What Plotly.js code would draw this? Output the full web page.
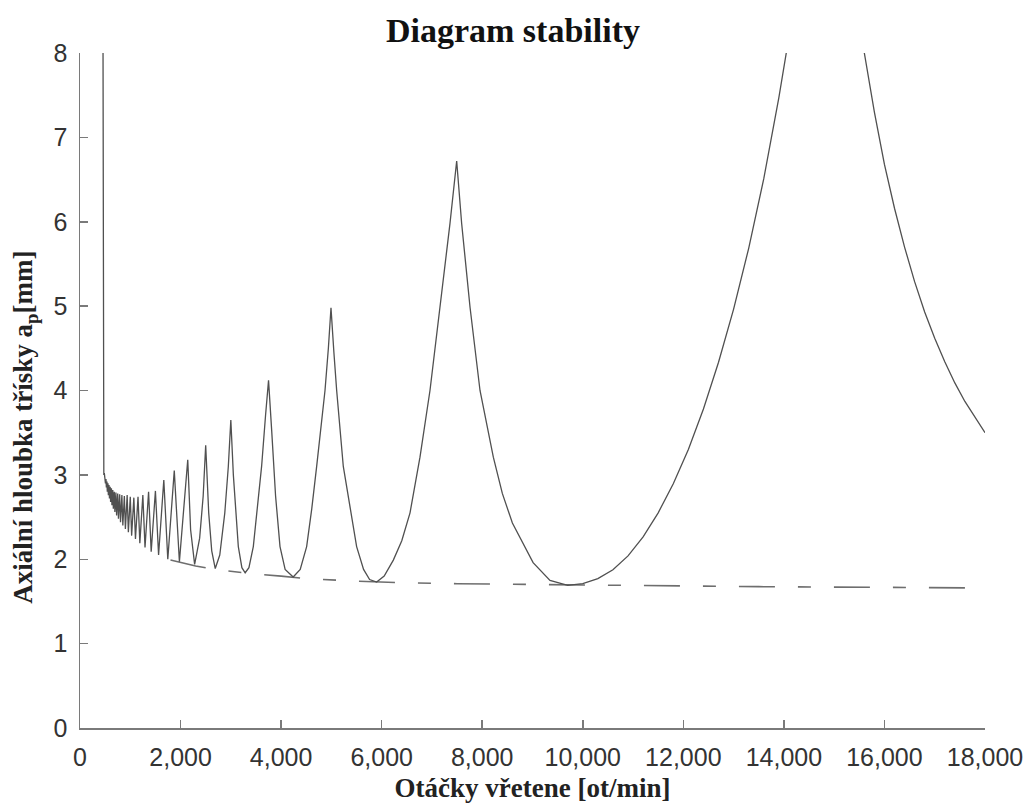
<!DOCTYPE html>
<html>
<head>
<meta charset="utf-8">
<script src="https://cdn.plot.ly/plotly-3.0.1.min.js"></script>
<style>html,body{margin:0;padding:0;background:#fff;}#chart{width:1028px;height:804px;}</style>
</head>
<body>
<div id="chart"></div>
<script>
// Stability lobe boundary (spindle speed [rpm], axial depth [mm])
var lobeSpeed = [458, 460, 462, 469, 474, 484, 490, 500, 506, 517, 524, 536, 543, 556, 564, 577, 586, 600, 609, 625, 635, 652, 663, 682, 694, 714, 728, 750, 765, 789, 806, 833, 852, 882, 903, 938, 962, 1000, 1027, 1071, 1103, 1154, 1190, 1250, 1293, 1364, 1416, 1500, 1563, 1667, 1746, 1875, 1977, 2143, 2200, 2280, 2380, 2450, 2500, 2560, 2620, 2690, 2780, 2880, 2950, 3000, 3050, 3149, 3220, 3285, 3360, 3447, 3530, 3612, 3690, 3750, 3812, 3890, 3978, 4080, 4240, 4380, 4508, 4610, 4707, 4800, 4873, 4940, 4992, 5050, 5105, 5237, 5370, 5502, 5640, 5760, 5900, 6050, 6232, 6400, 6564, 6762, 6961, 7160, 7359, 7492, 7591, 7757, 7956, 8221, 8400, 8600, 9012, 9348, 9700, 10000, 10300, 10600, 10900, 11200, 11500, 11800, 12100, 12400, 12700, 13000, 13300, 13600, 13900, 14100, 14400, 14800, 15200, 15600, 15800, 16000, 16200, 16400, 16600, 16800, 17000, 17200, 17400, 17600, 17800, 18000];
var lobeDepth = [8.0, 5.5, 3.10, 3.08, 3.00, 3.02, 2.95, 2.98, 2.90, 2.95, 2.85, 2.92, 2.80, 2.90, 2.76, 2.88, 2.72, 2.86, 2.68, 2.84, 2.64, 2.82, 2.60, 2.80, 2.56, 2.79, 2.52, 2.78, 2.48, 2.77, 2.44, 2.76, 2.40, 2.75, 2.36, 2.76, 2.32, 2.74, 2.28, 2.73, 2.24, 2.74, 2.19, 2.76, 2.14, 2.80, 2.09, 2.81, 2.05, 2.94, 2.00, 3.05, 1.97, 3.18, 2.35, 1.94, 2.25, 2.75, 3.35, 2.55, 2.10, 1.89, 2.05, 2.55, 3.10, 3.65, 3.00, 2.15, 1.90, 1.84, 1.90, 2.15, 2.60, 3.10, 3.70, 4.12, 3.53, 2.75, 2.15, 1.88, 1.79, 1.88, 2.15, 2.60, 3.10, 3.60, 4.00, 4.50, 4.98, 4.45, 4.00, 3.10, 2.60, 2.15, 1.88, 1.76, 1.73, 1.80, 1.99, 2.22, 2.55, 3.21, 4.00, 4.99, 5.98, 6.72, 5.98, 4.99, 4.00, 3.21, 2.78, 2.43, 1.96, 1.75, 1.69, 1.71, 1.77, 1.875, 2.04, 2.265, 2.55, 2.895, 3.30, 3.78, 4.335, 4.965, 5.685, 6.51, 7.47, 8.19, 9.3, 10.4, 9.6, 8.0, 7.30, 6.68, 6.16, 5.70, 5.29, 4.93, 4.62, 4.34, 4.09, 3.87, 3.68, 3.50];

// Dashed lower limit
var limitSpeed = [1800, 2300, 2800, 3400, 4000, 4500, 5500, 6500, 7500, 9000, 10500, 12000, 13500, 15000, 16500, 18000];
var limitDepth = [1.99, 1.92, 1.87, 1.83, 1.80, 1.77, 1.74, 1.72, 1.71, 1.70, 1.69, 1.68, 1.675, 1.67, 1.665, 1.66];

var xTicks = [0, 2000, 4000, 6000, 8000, 10000, 12000, 14000, 16000, 18000];
var yTicks = [0, 1, 2, 3, 4, 5, 6, 7, 8];

var traces = [
  {x: limitSpeed, y: limitDepth, type: 'scatter', mode: 'lines',
   line: {color: '#6e6e6e', width: 1.6, dash: '36px,23px,13px,23px'}, hoverinfo: 'skip'},
  {x: lobeSpeed, y: lobeDepth, type: 'scatter', mode: 'lines',
   line: {color: '#505050', width: 1.3}, hoverinfo: 'skip'}
];

var serif = '"Liberation Serif", "Times New Roman", serif';
var sans = '"Liberation Sans", Arial, sans-serif';

var layout = {
  width: 1028, height: 804,
  margin: {l: 80, r: 43, t: 53, b: 76},
  paper_bgcolor: '#fff', plot_bgcolor: '#fff',
  showlegend: false,
  title: {text: '<b>Diagram stability</b>', font: {family: serif, size: 34, color: '#111'},
          x: 0.499, xref: 'container', xanchor: 'center', y: 0.962, yref: 'container', yanchor: 'middle'},
  xaxis: {range: [0, 18000], tickvals: xTicks, tickformat: ',d', ticks: 'inside', ticklen: 8,
          tickcolor: '#7a7a7a', tickwidth: 1.5, showline: true, linecolor: '#7a7a7a', linewidth: 1.5,
          showgrid: false, zeroline: false, mirror: false, ticklabelstandoff: 6,
          tickfont: {family: sans, size: 25, color: '#333'},
          title: {text: '<b>Otáčky vřetene [ot/min]</b>', font: {family: serif, size: 27, color: '#222'}, standoff: 8}},
  yaxis: {range: [0, 8], tickvals: yTicks, ticks: 'inside', ticklen: 8,
          tickcolor: '#7a7a7a', tickwidth: 1.5, showline: true, linecolor: '#7a7a7a', linewidth: 1.5,
          showgrid: false, zeroline: false, mirror: false, ticklabelstandoff: 6,
          tickfont: {family: sans, size: 25, color: '#333'}},
  annotations: [
    {text: '<b>Axiální hloubka třísky a<sub>p</sub>[mm]</b>', textangle: -90, showarrow: false,
     xref: 'paper', yref: 'paper', x: -0.061, y: 0.446, xanchor: 'center', yanchor: 'middle',
     font: {family: serif, size: 27, color: '#222'}}
  ]
};

Plotly.newPlot('chart', traces, layout, {displayModeBar: false, staticPlot: true});
</script>
</body>
</html>
